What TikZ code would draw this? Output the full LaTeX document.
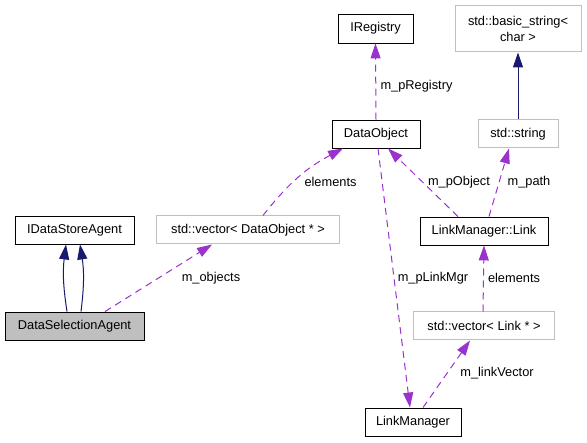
\documentclass[tikz,border=0pt]{standalone}
\usepackage{fontspec}
\setmainfont{Liberation Sans}
\usepackage{tikz}
\usetikzlibrary{arrows.meta}
\usetikzlibrary{positioning}
\definecolor{doxpurple}{RGB}{154, 50, 205}
\definecolor{doxnavy}{RGB}{25, 25, 112}
\definecolor{doxgray}{RGB}{191, 191, 191}
\tikzset{
    cls/.style={draw=black, line width=0.9pt, minimum height=28pt, inner sep=0pt, font=\fontsize{12.8}{16}\selectfont},
    extcls/.style={cls, draw=doxgray, line width=1pt},
    usage/.style={draw=doxpurple, line width=1pt, dash pattern=on 7pt off 5pt, -{Triangle[length=15pt,width=10pt]}},
    inherit/.style={draw=doxnavy, line width=1pt, -{Triangle[length=15pt,width=10pt]}},
    lbl/.style={inner sep=0pt, font=\fontsize{12.8}{16}\selectfont}
}
\begin{document}
\begin{tikzpicture}[x=1pt, y=-1pt]
            % Frame to ensure alignment:
            \useasboundingbox (0, 0) rectangle (587, 443);
            % Classes:
            \node[cls,    minimum width=119pt]                   (idsa)     at ( 74.5, 230.0) {IDataStoreAgent};
            \node[cls,    minimum width=139pt, fill=doxgray]     (dsa)      at ( 74.5, 326.0) {DataSelectionAgent};
            \node[extcls, minimum width=183pt]                   (vecobj)   at (248.0, 230.0) {std::vector< DataObject * >};
            \node[cls,    minimum width= 88pt]                   (dataobj)  at (376.0, 134.0) {DataObject};
            \node[cls,    minimum width= 75pt, minimum height=29pt] (ireg)  at (375.5,  28.5) {IRegistry};
            \node[extcls, minimum width=126pt, minimum height=46pt, align=center] (bstring) at (518.0, 29.0) {std::basic\_string<\\char >};
            \node[extcls, minimum width= 80pt]                   (string)   at (518.0, 134.0) {std::string};
            \node[cls,    minimum width=128pt]                   (link)     at (484.0, 231.0) {LinkManager::Link};
            \node[extcls, minimum width=141pt]                   (veclink)  at (484.0, 326.0) {std::vector< Link * >};
            \node[cls,    minimum width= 96pt]                   (linkmgr)  at (413.0, 422.0) {LinkManager};
            % Inheritance:
            \draw[inherit] ([xshift=-7.5pt]dsa.north) to[bend left=8]  ([xshift=-8.5pt]idsa.south);
            \draw[inherit] ([xshift= 6.5pt]dsa.north) to[bend right=8] ([xshift= 5.5pt]idsa.south);
            \draw[inherit] (string.north) -- (bstring.south);
            % Usage:
            \draw[usage]   ([xshift=30.5pt]dsa.north)     -- ([xshift=-36pt]vecobj.south);
            \draw[usage]   ([xshift=15pt]vecobj.north)    to[bend left=12] ([xshift=-33pt]dataobj.south);
            \draw[usage]   (dataobj.north)                -- (ireg.south);
            \draw[usage]   ([xshift=5pt]link.north)       -- ([xshift=-9pt]string.south);
            \draw[usage]   ([xshift=-26pt]link.north)     -- ([xshift=12pt]dataobj.south);
            \draw[usage]   ([xshift=2pt]dataobj.south)    -- ([xshift=-3pt]linkmgr.north);
            \draw[usage]   ([xshift=-1pt]veclink.north)   -- (link.south);
            \draw[usage]   ([xshift=10pt]linkmgr.north)   -- ([xshift=-14pt]veclink.south);
            % Labels:
            \node[lbl] (lobjects)  at (211.0, 278.0) {m\_objects};
            \node[lbl] (lelemobj)  at (330.5, 182.0) {elements};
            \node[lbl] (lregistry) at (416.5,  86.0) {m\_pRegistry};
            \node[lbl] (lpath)     at (529.0, 182.0) {m\_path};
            \node[lbl] (lpobject)  at (459.0, 182.0) {m\_pObject};
            \node[lbl] (llinkmgr)  at (433.0, 278.0) {m\_pLinkMgr};
            \node[lbl] (lelemlink) at (514.0, 278.0) {elements};
            \node[lbl] (llinkvec)  at (497.0, 373.0) {m\_linkVector};
        \end{tikzpicture}
\end{document}
